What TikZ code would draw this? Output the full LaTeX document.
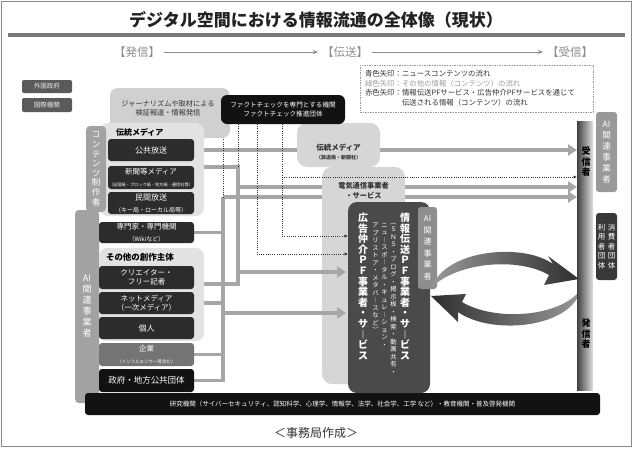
\documentclass[tikz,border=0pt]{standalone}
\usepackage{fontspec}
\setmainfont{Noto Sans CJK JP}
\usetikzlibrary{arrows.meta,calc}
\pgfdeclarelayer{bgw}
\pgfdeclarelayer{l0}
\pgfdeclarelayer{l1}
\pgfdeclarelayer{l2}
\pgfsetlayers{bgw,l0,l1,l2,main}
\definecolor{ctitle}{HTML}{222222}
\definecolor{cframe}{HTML}{8A8A8A}
\definecolor{cunder}{HTML}{7A7A7A}
\definecolor{chdr}{HTML}{8C8C8C}
\definecolor{cdark}{HTML}{2C2C2C}
\definecolor{cblack}{HTML}{121212}
\definecolor{cgrp}{HTML}{E2E2E2}
\definecolor{cjour}{HTML}{D0D0D0}
\definecolor{cstrip}{HTML}{A2A2A2}
\definecolor{cline}{HTML}{A6A6A6}
\definecolor{ckigyo}{HTML}{747474}
\definecolor{cpf}{HTML}{4A4A4A}
\definecolor{cpfai}{HTML}{8E8E8E}
\definecolor{clight}{HTML}{D6D6D6}
\definecolor{ccirc}{HTML}{3C3C3C}
\definecolor{cgov}{HTML}{5A5A5A}
\definecolor{clegend}{HTML}{9A9A9A}
\definecolor{ctext}{HTML}{333333}
\definecolor{cgreen}{HTML}{9C9C9C}
\newcommand\fs[2]{\fontsize{#1}{#2}\selectfont}
\def\vsEnd{}
\newcommand\vstack[1]{\vsA#1\vsEnd}
\def\vsA#1{#1\vsB}
\def\vsB#1{\ifx\vsEnd#1\else\\#1\expandafter\vsB\fi}
\tikzset{
  dk/.style={fill=cdark,text=white,rounded corners=3pt,align=center},
  grp/.style={fill=cgrp,rounded corners=8pt},
  strip/.style={fill=cstrip,text=white,rounded corners=4pt,align=center},
  gline/.style={draw=cline,line width=3.6pt,-{Triangle[length=9pt,width=11pt]}},
  gbus/.style={draw=cline,line width=3.6pt,line join=miter},
  dline/.style={draw=ctext,line width=1pt,dash pattern=on 1pt off 1.2pt},
  darrow/.style={dline,-{Latex[length=3.5pt,width=3.5pt]}},
  harrow/.style={draw=chdr,line width=0.8pt,-{Stealth[length=5pt,width=4pt]}},
  hdr/.style={font=\fs{11.5}{13},text=chdr},
  lg/.style={font=\fs{7.4}{9},text=ctext,anchor=west},
}
\begin{document}
\begin{tikzpicture}[x=1pt,y=-1pt]
\tikzset{every node/.style={inner sep=0pt,outer sep=0pt}}
\useasboundingbox (0,0) rectangle (633,448);
\begin{pgfonlayer}{bgw}
\fill[white] (0,0) rectangle (633,448);
\end{pgfonlayer}
\draw[draw=cframe,line width=1.2pt] (1.5,1.5) rectangle (631.5,446.5);

% title
\node[font=\fs{17}{20}\bfseries,text=ctitle] (title) at (316,20) {デジタル空間における情報流通の全体像（現状）};
\draw[cunder,line width=3.5pt] (8,35) -- (625,35);

% header
\node[hdr] (hs) at (137,52) {【発信】};
\node[hdr] (hd) at (345,52) {【伝送】};
\node[hdr] (hj) at (570,52) {【受信】};
\draw[harrow,shorten <=4pt,shorten >=4pt] (hs) -- (hd);
\draw[harrow,shorten <=4pt,shorten >=4pt] (hd) -- (hj);

% legend
\node[draw=clegend,line width=0.6pt,dash pattern=on 1.5pt off 1pt,minimum width=233pt,minimum height=47pt] (legend) at (476.5,88.5) {};
\node[lg] (lg1) at (365,74) {青色矢印：ニュースコンテンツの流れ};
\node[lg,text=cgreen] (lg2) at (365,83.5) {緑色矢印：その他の情報（コンテンツ）の流れ};
\node[lg] (lg3) at (365,93) {赤色矢印：情報伝送PFサービス・広告仲介PFサービスを通じて};
\node[lg] (lg4) at (402,102.5) {伝送される情報（コンテンツ）の流れ};

% foreign
\node[fill=cgov,text=white!92!black,rounded corners=2pt,minimum width=50pt,minimum height=13pt,font=\fs{6.5}{8}] (gaikoku) at (47,86.5) {外国政府};
\node[fill=cgov,text=white!92!black,rounded corners=2pt,minimum width=50pt,minimum height=14pt,font=\fs{6.5}{8}] (kokusai) at (47,105) {国際機関};

% journalism and fact check
\node[fill=cjour,rounded corners=8pt,minimum width=120pt,minimum height=50pt] (journal) at (170,113) {};
\node[font=\fs{7.2}{9},text=ctext,align=center] (journaltxt) at (168,108.5) {ジャーナリズムや取材による\\検証報道・情報発信};
\node[fill=cblack,text=white,rounded corners=6pt,minimum width=124pt,minimum height=29pt,align=center,font=\fs{6.6}{9}] (fact) at (283,109.5) {ファクトチェックを専門とする機関\\ファクトチェック推進団体};

% traditional media group
\node[grp,minimum width=104pt,minimum height=93pt] (tgrp) at (152,169.5) {};
\node[font=\fs{8}{9}\bfseries,anchor=west] (tgrph) at (116,132) {伝統メディア};
\node[strip,minimum width=20pt,minimum height=86pt,font=\fs{8.5}{9.6}] (cstrip) at (96,169) {\vstack{コンテンツ制作者}};
\node[dk,minimum width=86pt,minimum height=22pt,font=\fs{8}{9}] (kokyo) at (151,150) {公共放送};
\node[dk,minimum width=86pt,minimum height=23pt] (shinbun) at (151,177.5) {\fs{7.5}{9}新聞等メディア\\\fs{4.2}{5.5}（全国紙・ブロック紙・地方紙・通信社等）};
\node[dk,minimum width=86pt,minimum height=22pt] (minkan) at (151,203) {\fs{8}{9}民間放送\\\fs{6}{7}（キー局・ローカル局等）};

% AI strip left
\node[strip,minimum width=24pt,minimum height=193pt,font=\fs{9}{11}] (aistrip) at (87,306.5) {\vstack{{AI}関連事業者}};
\node[dk,minimum width=95pt,minimum height=21pt] (senmon) at (146.5,232.5) {\fs{7.5}{9}専門家・専門機関\\\fs{6}{7}（Wikiなど）};

% other creators group
\node[grp,minimum width=105pt,minimum height=93pt] (ogrp) at (151.5,294.5) {};
\node[font=\fs{8.5}{9}\bfseries,anchor=west] (ogrph) at (106,257) {その他の創作主体};
\node[dk,minimum width=95pt,minimum height=23pt,font=\fs{7.5}{9}] (creator) at (146.5,277.5) {クリエイター・\\フリー記者};
\node[dk,minimum width=95pt,minimum height=22pt,font=\fs{7.5}{9}] (netmedia) at (146.5,303) {ネットメディア\\（一次メディア）};
\node[dk,minimum width=95pt,minimum height=22pt,font=\fs{8}{9}] (kojin) at (146.5,328) {個人};
\node[dk,fill=ckigyo,minimum width=95pt,minimum height=23pt] (kigyo) at (146.5,354.5) {\fs{7.5}{8.5}企業\\\fs{4.5}{6}（インフルエンサー等含む）};
\node[dk,fill=cblack,minimum width=95pt,minimum height=23pt,font=\fs{8.5}{9}] (seifu) at (146.5,380.5) {政府・地方公共団体};

% bottom bar
\node[fill=cblack,text=white,rounded corners=3pt,minimum width=515pt,minimum height=22pt,font=\fs{6.5}{8}] (research) at (342.5,404) {研究機関（サイバーセキュリティ、認知科学、心理学、情報学、法学、社会学、工学 など）・教育機関・普及啓発機関};
\node[font=\fs{12}{14},text=ctext] (credit) at (316,433) {＜事務局作成＞};

% transmission boxes (layer l1)
\begin{pgfonlayer}{l1}
\node[fill=clight,rounded corners=10pt,minimum width=83pt,minimum height=44pt] (tright) at (338.5,145) {};
\node[fill=clight,rounded corners=10pt,minimum width=83pt,minimum height=217pt] (denki) at (363.5,275.5) {};
\end{pgfonlayer}
\node[font=\fs{7.5}{9}\bfseries,text=ctext,align=center] (trighttxt) at (338.5,152) {伝統メディア\\\fs{5}{6}（放送局・新聞社）};
\node[font=\fs{7.2}{10}\bfseries,text=ctext,align=center] (denkitxt) at (363.5,191) {電気通信事業者\\・サービス};

% PF box
\node[fill=cpf,rounded corners=9pt,minimum width=82pt,minimum height=191pt] (pf) at (389,297.5) {};
\node[font=\fs{10}{10.6}\bfseries,text=white,align=center,anchor=north] (pf1) at (405,213) {\vstack{情報伝送ＰＦ事業者・サ︱ビス}};
\node[font=\fs{6.3}{7.5},text=white,align=center,anchor=north] (pf2) at (393.5,223) {\vstack{︵ＳＮＳ・ブログ・掲示板・検索・動画共有・}};
\node[font=\fs{6.3}{7.5},text=white,align=center,anchor=north] (pf3) at (384.5,223) {\vstack{ニュ︱スポ︱タル・キュレ︱ション・}};
\node[font=\fs{6.3}{7.5},text=white,align=center,anchor=north] (pf4) at (375.5,223) {\vstack{アプリストア・メタバ︱スなど︶}};
\node[font=\fs{10}{10.6}\bfseries,text=white,align=center,anchor=north] (pf5) at (363,213) {\vstack{広告仲介ＰＦ事業者・サ︱ビス}};
\node[fill=cpfai,text=white,rounded corners=3pt,minimum width=19pt,minimum height=82pt,align=center,font=\fs{8}{11.5}] (pfai) at (427.5,248) {\vstack{{AI}関連事業者}};

% circular arrows
\shade[left color=black!40,right color=black!82] (432,287) .. controls (445,250) and (522,242) .. (553,264) -- (548,256) -- (579,279) -- (544,285) -- (549,275) .. controls (518,257) and (458,262) .. (432,287) -- cycle;
\shade[left color=black!82,right color=black!40] (581,289) .. controls (572,328) and (492,336) .. (458,312) -- (458,322) -- (431,296) -- (466,294) -- (462,302) .. controls (495,322) and (562,317) .. (581,289) -- cycle;

% receiver bar
\node[left color=black!75,right color=black!12,minimum width=16pt,minimum height=269pt] (bar) at (585,255.5) {};
\node[font=\fs{9}{10.5}\bfseries,align=center] (recv) at (586,162) {\vstack{受信者}};
\node[font=\fs{9}{10.5}\bfseries,align=center] (send) at (586,334) {\vstack{発信者}};
\node[fill=black!40,text=white,rounded corners=3pt,minimum width=21pt,minimum height=80pt,align=center,font=\fs{8.5}{11}] (rai) at (606.5,152) {\vstack{{AI}関連事業者}};
\node[fill=black!78,rounded corners=3pt,minimum width=21pt,minimum height=67pt] (cons) at (606.5,246.5) {};
\node[font=\fs{7.5}{9.4},text=white,align=center] (cons1) at (611.5,246.5) {\vstack{消費者団体}};
\node[font=\fs{7.5}{9.4},text=white,align=center] (cons2) at (601.5,246.5) {\vstack{利用者団体}};

% junction coordinates
\coordinate (a1) at (238,167);
\coordinate (a2) at (238,187);
\coordinate (a3) at (238,272);
\coordinate (a4) at (238,284);
\coordinate (b1) at (223,197);
\coordinate (b2) at (223,313);
\coordinate (f1) at (223,124);
\coordinate (f2) at (238,124);
\coordinate (f3) at (257,124);
\coordinate (f4) at (282,124);
\coordinate (d3) at (257,254);
\coordinate (d4) at (282,236);
\coordinate (d5) at (282,177);

% lines to receivers (layer l0)
\begin{pgfonlayer}{l0}
\draw[gline] (kokyo.east) -- (kokyo.east -| bar.west);
\draw[gline] (a2) -- (a2 -| bar.west);
\draw[gline] (b1) -- (b1 -| bar.west);
\end{pgfonlayer}

% buses and arrows into PF (layer l2)
\begin{pgfonlayer}{l2}
\draw[gbus] ([yshift=10.5pt]shinbun.east) -- (a1) -- (a4) -- (a4 -| creator.east);
\draw[gbus] (b1) -- (seifu.east -| b1) -- (seifu.east);
\draw[gbus] (senmon.east) -- (senmon.east -| b1);
\draw[gbus] (netmedia.east) -- (netmedia.east -| b1);
\draw[gbus] (kigyo.east) -- (kigyo.east -| b1);
\draw[gline,shorten >=2pt] (a3) -- (a3 -| pf.west);
\draw[gline,shorten >=2pt] (b2) -- (b2 -| pf.west);
\draw[dline] (f1) -- (b1);
\draw[dline] (f2) -- (a1);
\draw[darrow] (f3) -- (d3) -- (d3 -| pf.west);
\draw[darrow] (f4) -- (d4) -- (d4 -| pf.west);
\draw[darrow] (d5) -- (d5 -| bar.west);
\end{pgfonlayer}
\end{tikzpicture}
\end{document}
